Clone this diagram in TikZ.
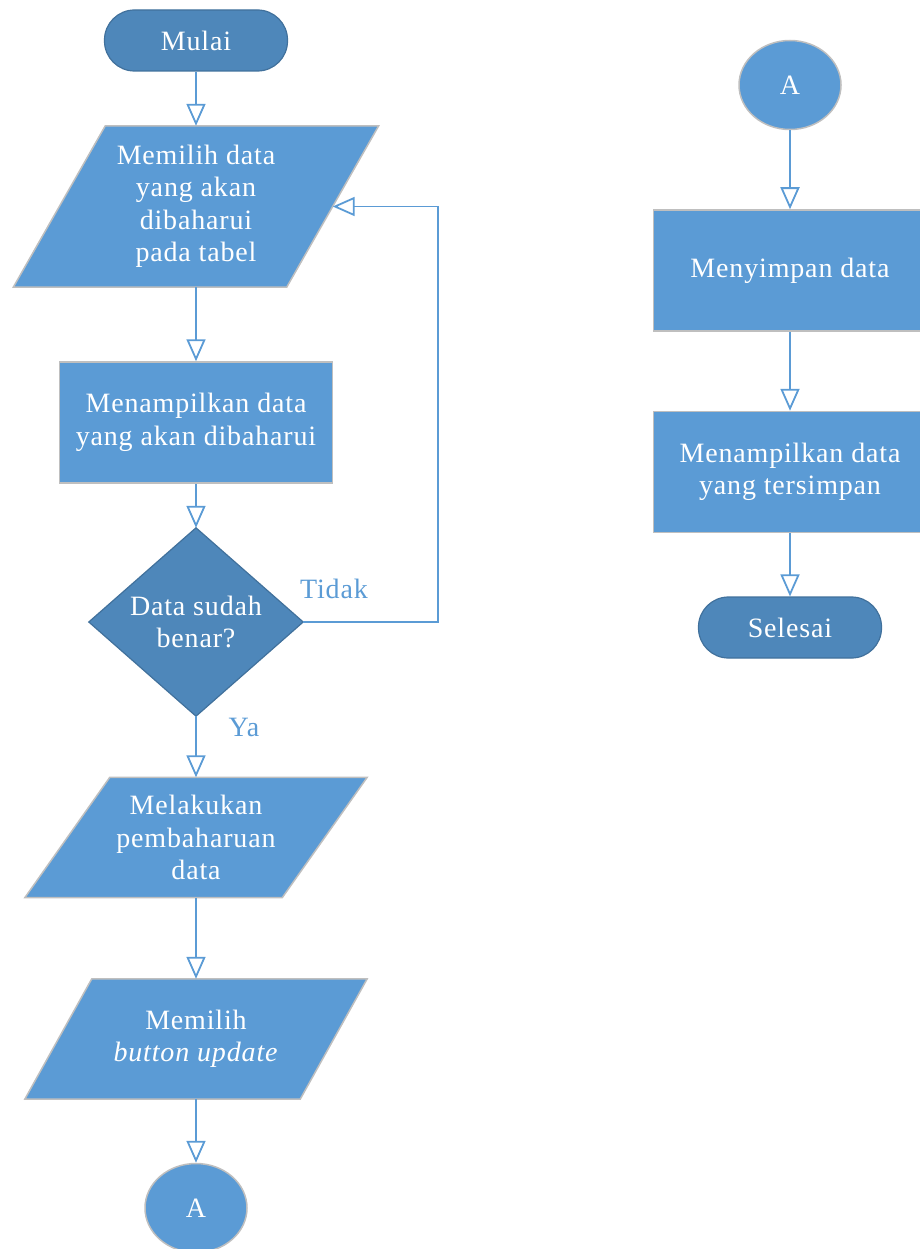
\documentclass[tikz,border=0pt]{standalone}
\usepackage{fontspec}
\setmainfont{Liberation Serif}[LetterSpace=3]
\usetikzlibrary{arrows.meta,shapes.geometric,calc,backgrounds}

\definecolor{boxblue}{HTML}{5B9BD5}
\definecolor{darkblue}{HTML}{4E87BA}
\definecolor{darkedge}{HTML}{41719C}
\definecolor{greyedge}{HTML}{BFBFBF}

\tikzset{
  every node/.style={font=\fontsize{28}{32.5}\selectfont, align=center},
  txt/.style={text=white, inner sep=0pt},
  terminal/.style={txt, rectangle, rounded corners=30pt, fill=darkblue,
    draw=darkedge, line width=1.2pt, minimum width=183pt, minimum height=61pt},
  procbox/.style={txt, rectangle, fill=boxblue, draw=greyedge, line width=1.5pt,
    minimum width=273pt, minimum height=121pt},
  connector/.style={txt, ellipse, fill=boxblue, draw=greyedge, line width=1.5pt,
    minimum width=102pt, minimum height=89pt},
  holder/.style={txt, rectangle},
  ioshape/.style={fill=boxblue, draw=greyedge, line width=1.5pt, line join=miter},
  decshape/.style={fill=darkblue, draw=darkedge, line width=1.2pt},
  flow/.style={draw=boxblue, line width=1.8pt,
    -{Triangle[open, length=22pt, width=19pt, line width=1.8pt]}},
  answer/.style={text=boxblue, inner sep=0pt}
}

\begin{document}
\begin{tikzpicture}[x=1pt, y=-1pt]
\useasboundingbox (0,0) rectangle (920,1249);

% ---- left column ----
\node[terminal] (start) at (196,40.5) {Mulai};

\node[holder, minimum width=365pt, minimum height=161pt] (in1) at (196,206.5)
  {Memilih data\\yang akan\\dibaharui\\pada tabel};
\begin{scope}[on background layer]
  \path[ioshape] ($(in1.north west)+(92,0)$) -- (in1.north east)
    -- ($(in1.south east)-(92,0)$) -- (in1.south west) -- cycle;
\end{scope}

\node[procbox] (show1) at (196,422.5) {Menampilkan data\\yang akan dibaharui};

\node[holder, minimum width=214pt, minimum height=188pt] (check) at (196,622)
  {Data sudah\\benar?};
\begin{scope}[on background layer]
  \path[decshape] (check.north) -- (check.east) -- (check.south) -- (check.west) -- cycle;
\end{scope}

\node[holder, minimum width=342pt, minimum height=120pt] (in2) at (196,837.5)
  {Melakukan\\pembaharuan\\data};
\begin{scope}[on background layer]
  \path[ioshape] ($(in2.north west)+(85,0)$) -- (in2.north east)
    -- ($(in2.south east)-(85,0)$) -- (in2.south west) -- cycle;
\end{scope}

\node[holder, minimum width=342pt, minimum height=120pt] (in3) at (196,1039)
  {Memilih\\\textit{button update}};
\begin{scope}[on background layer]
  \path[ioshape] ($(in3.north west)+(67,0)$) -- (in3.north east)
    -- ($(in3.south east)-(67,0)$) -- (in3.south west) -- cycle;
\end{scope}

\node[connector] (offA) at (196,1208) {A};

% ---- right column ----
\node[connector] (onA) at (790,85) {A};
\node[procbox] (save) at (790,270.5) {Menyimpan data};
\node[procbox] (show2) at (790,472) {Menampilkan data\\yang tersimpan};
\node[terminal] (stop) at (790,627.5) {Selesai};

% ---- connectors ----
\coordinate (loopin) at ($(in1.east)+(-46,0)$);
\coordinate (loopcorner1) at (438,622);
\coordinate (loopcorner2) at (438,206.5);

\draw[flow] (start) -- (in1.north);
\draw[flow] (in1.south) -- (show1);
\draw[flow] (show1) -- (check.north);
\draw[flow] (check.east) -- (loopcorner1) -- (loopcorner2) -- (loopin);
\draw[flow] (check.south) -- (in2.north);
\draw[flow] (in2.south) -- (in3.north);
\draw[flow] (in3.south) -- (offA);

\draw[flow] (onA) -- (save);
\draw[flow] (save) -- (show2);
\draw[flow] (show2) -- (stop);

\node[answer] (no) at (334,589) {Tidak};
\node[answer] (yes) at (244,727) {Ya};
\end{tikzpicture}
\end{document}
